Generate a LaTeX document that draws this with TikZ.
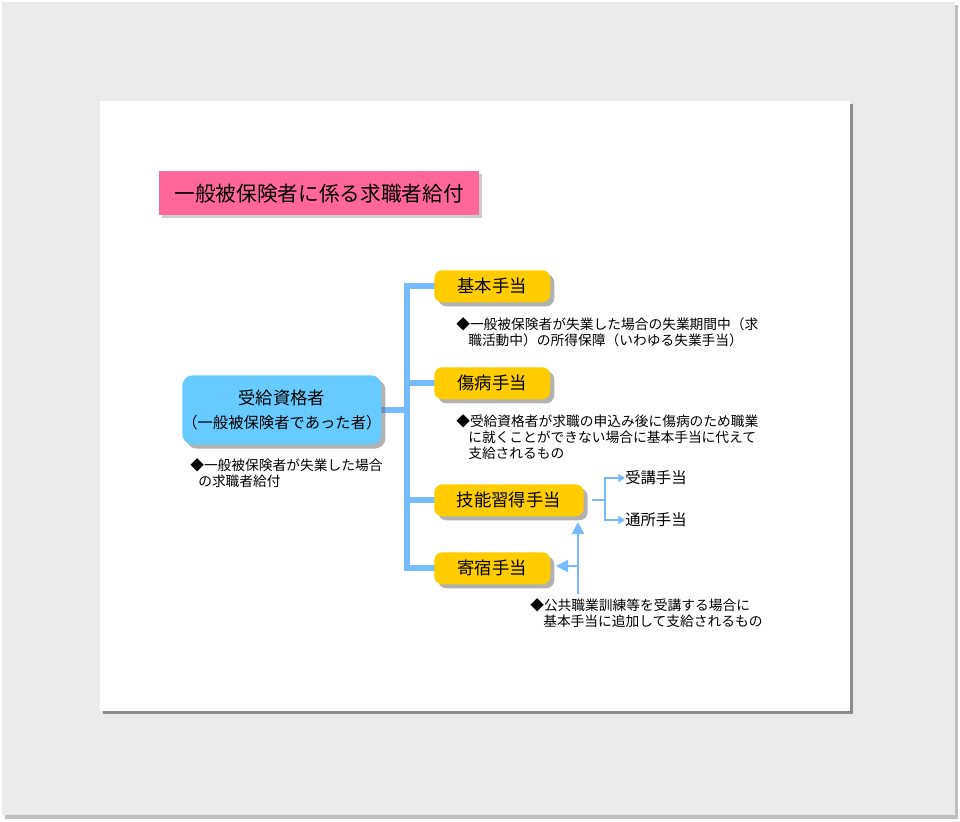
\documentclass[tikz,border=0pt]{standalone}
\usepackage{fontspec}
\setmainfont{Noto Sans CJK JP}
\usetikzlibrary{arrows.meta,shadows}
\definecolor{pinkc}{HTML}{FF6699}
\definecolor{bluec}{HTML}{66CCFF}
\definecolor{yel}{HTML}{FFCC00}
\definecolor{line}{HTML}{77BBFF}
\tikzset{
 ybox/.style={fill=yel,rounded corners=6pt,drop shadow={shadow xshift=3pt,shadow yshift=-3pt,fill=black!60},font=\fontsize{13}{15}\selectfont,anchor=north west,inner sep=0pt},
 note/.style={anchor=west,font=\fontsize{10.3}{12}\selectfont,inner sep=0pt},
 conn/.style={line,line width=4.5pt},
 thin/.style={line,line width=1.6pt},
}
\begin{document}
\begin{tikzpicture}[x=0.75pt,y=-0.75pt]
\useasboundingbox (0,0) rectangle (960,821);
\fill[black!25] (5,5) rectangle (958,819);
\fill[black!8] (2,2) rectangle (955,815);
\fill[black!45] (103,104) rectangle (853,714);
\fill[white] (100,101) rectangle (850,711);
\node[fill=pinkc,minimum width=240pt,minimum height=33pt,anchor=north west,inner sep=0pt,drop shadow={shadow xshift=2pt,shadow yshift=-2pt,fill=black!40},font=\fontsize{15.5}{17}\selectfont] (title) at (159,171) {一般被保険者に係る求職者給付};
\coordinate (t1) at (407,286);
\coordinate (t4) at (407,568);
\coordinate (tm) at (407,410);
\draw[conn] (369,410) -- (tm);
\draw[conn] (440,286) -- (t1) -- (t4) -- (440,568);
\draw[conn] (407,383) -- (440,383);
\draw[conn] (407,500) -- (440,500);
\node[ybox,minimum width=87pt,minimum height=24pt] (kihon) at (434,270) {基本手当};
\node[ybox,minimum width=87pt,minimum height=24pt] (shobyo) at (434,367) {傷病手当};
\node[ybox,minimum width=112pt,minimum height=24pt] (gino) at (434,484) {技能習得手当};
\node[ybox,minimum width=87pt,minimum height=24pt] (kishuku) at (434,552) {寄宿手当};
\node[fill=bluec,rounded corners=8pt,drop shadow={shadow xshift=3pt,shadow yshift=-3pt,fill=black!60},minimum width=140pt,minimum height=52pt,anchor=north west,inner sep=0pt,align=center,font=\fontsize{13}{18}\selectfont] (jukyu) at (182,375) {受給資格者\\{\fontsize{11.5}{13}\selectfont（一般被保険者であった者）}};
\node[note] (n1) at (190,465) {◆一般被保険者が失業した場合};
\node[note] (n1b) at (198,481) {の求職者給付};
\node[note] (n2) at (456,324) {◆一般被保険者が失業した場合の失業期間中（求};
\node[note] (n2b) at (468,340) {職活動中）の所得保障（いわゆる失業手当）};
\node[note] (n3) at (456,421) {◆受給資格者が求職の申込み後に傷病のため職業};
\node[note] (n3b) at (468,437) {に就くことができない場合に基本手当に代えて};
\node[note] (n3c) at (468,453) {支給されるもの};
\node[note,font=\fontsize{11.5}{13}\selectfont] (juko) at (625,478) {受講手当};
\node[note,font=\fontsize{11.5}{13}\selectfont] (tsusho) at (625,520) {通所手当};
\node[note] (n4) at (530,605) {◆公共職業訓練等を受講する場合に};
\node[note] (n4b) at (543,621) {基本手当に追加して支給されるもの};
\coordinate (b) at (605,500);
\draw[thin] (592,500) -- (b);
\draw[thin,-{Triangle[width=6pt,length=5pt]}] (b) |- (juko.west);
\draw[thin,-{Triangle[width=6pt,length=5pt]}] (b) |- (tsusho.west);
\coordinate (a0) at (578,594);
\draw[thin,-{Triangle[width=9pt,length=9pt]}] (a0) -- (578,522);
\draw[thin,-{Triangle[width=9pt,length=9pt]}] (578,566) -- (556,566);
\end{tikzpicture}
\end{document}
